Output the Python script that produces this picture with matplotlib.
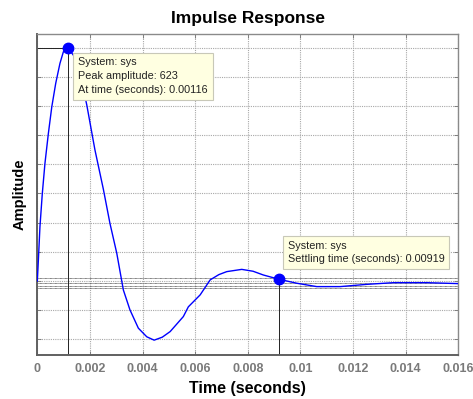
import numpy as np
import matplotlib
matplotlib.use('Agg')
import matplotlib.pyplot as plt

plt.rcParams['font.family'] = ['Liberation Sans', 'DejaVu Sans']

# impulse response (time in ms, amplitude)
t_ms = [0.0, 0.04, 0.10, 0.19, 0.29, 0.42, 0.55, 0.70, 0.86, 0.99, 1.16,
        1.40, 1.65, 1.88, 2.19, 2.51, 2.76, 3.02, 3.27, 3.52, 3.84, 4.16,
        4.44, 4.75, 5.05, 5.55, 5.74, 6.19, 6.57, 6.90, 7.20, 7.77, 8.20,
        8.59, 9.19, 9.86, 10.62, 11.51, 12.52, 13.54, 14.80, 16.0]
amp = [0, 56, 145, 234, 314, 394, 465, 528, 581, 612, 623,
       600, 545, 470, 350, 245, 154, 74, -24, -77, -126, -149,
       -158, -150, -135, -95, -69, -37, 3, 17, 25, 31, 26,
       16, 4.5, -6, -15, -15, -9, -4.5, -4.5, -7]

peak_t, peak_amp = 1.16, 623
settle_t, settle_amp = 9.19, 4.5
settle_lines = [7, -6, -12.5, -18]

x_ticks = [0, 0.002, 0.004, 0.006, 0.008, 0.01, 0.012, 0.014, 0.016]
x_labels = ['0', '0.002', '0.004', '0.006', '0.008', '0.01', '0.012', '0.014', '0.016']
y_step = 623 / 8
y_ticks = np.arange(-2, 9) * y_step

t = np.array(t_ms) / 1000.0

fig = plt.figure(figsize=(4.73, 3.99), dpi=100)
ax = fig.add_axes([0.0789, 0.1103, 0.890, 0.8045])

ax.set_xlim(0, 0.016)
ax.set_ylim(-197.6, 659.5)

ax.set_xticks(x_ticks)
ax.set_xticklabels(x_labels)
ax.set_yticks(y_ticks)
ax.set_yticklabels([])
ax.tick_params(direction='in', length=3, width=0.6, colors='#707070',
               top=True, right=True, labelsize=9, pad=6)
for lab in ax.get_xticklabels():
    lab.set_fontweight('bold')
    lab.set_color('#7a7a7a')

ax.grid(True, color='#a8a8a8', linestyle=(0, (1, 1)), linewidth=0.8)
ax.set_axisbelow(True)
for side in ['top', 'right']:
    ax.spines[side].set_color('#8a8a8a')
    ax.spines[side].set_linewidth(1.0)
for side in ['bottom', 'left']:
    ax.spines[side].set_color('#606060')
    ax.spines[side].set_linewidth(1.4)

# settling bands
for yv in settle_lines:
    ax.axhline(yv, color='#555555', linewidth=0.6, linestyle=(0, (1, 0.5)), zorder=2)

ax.plot(t, amp, color='#0000ff', linewidth=1.0, zorder=3)

# characteristic points
ax.plot([peak_t / 1000, peak_t / 1000], [-197.6, peak_amp], color='#222222', lw=0.7, zorder=2)
ax.plot([0, peak_t / 1000], [peak_amp, peak_amp], color='#222222', lw=0.7, zorder=2)
ax.plot([settle_t / 1000, settle_t / 1000], [-197.6, settle_amp], color='#222222', lw=0.7, zorder=2)
ax.plot([peak_t / 1000, settle_t / 1000], [peak_amp, settle_amp], linestyle='none',
        marker='o', markersize=7.5, color='#0000ff', zorder=5)

box = dict(boxstyle='square,pad=0.45', facecolor='#ffffe1', edgecolor='#c8c8b8', linewidth=0.8)
ax.text(0.097, 0.927, 'System: sys\nPeak amplitude: %d\nAt time (seconds): 0.00116' % peak_amp,
        transform=ax.transAxes, fontsize=7.8, va='top', ha='left', color='#222222',
        linespacing=1.45, bbox=box, zorder=6)
ax.text(0.595, 0.356, 'System: sys\nSettling time (seconds): 0.00919',
        transform=ax.transAxes, fontsize=7.8, va='top', ha='left', color='#222222',
        linespacing=1.45, bbox=box, zorder=6)

ax.set_title('Impulse Response', fontsize=12.5, fontweight='bold', pad=8)
ax.set_xlabel('Time (seconds)', fontsize=11.5, fontweight='bold', labelpad=4)
ax.set_ylabel('Amplitude', fontsize=10.5, fontweight='bold', labelpad=2)

fig.savefig('out.png', dpi=100)
